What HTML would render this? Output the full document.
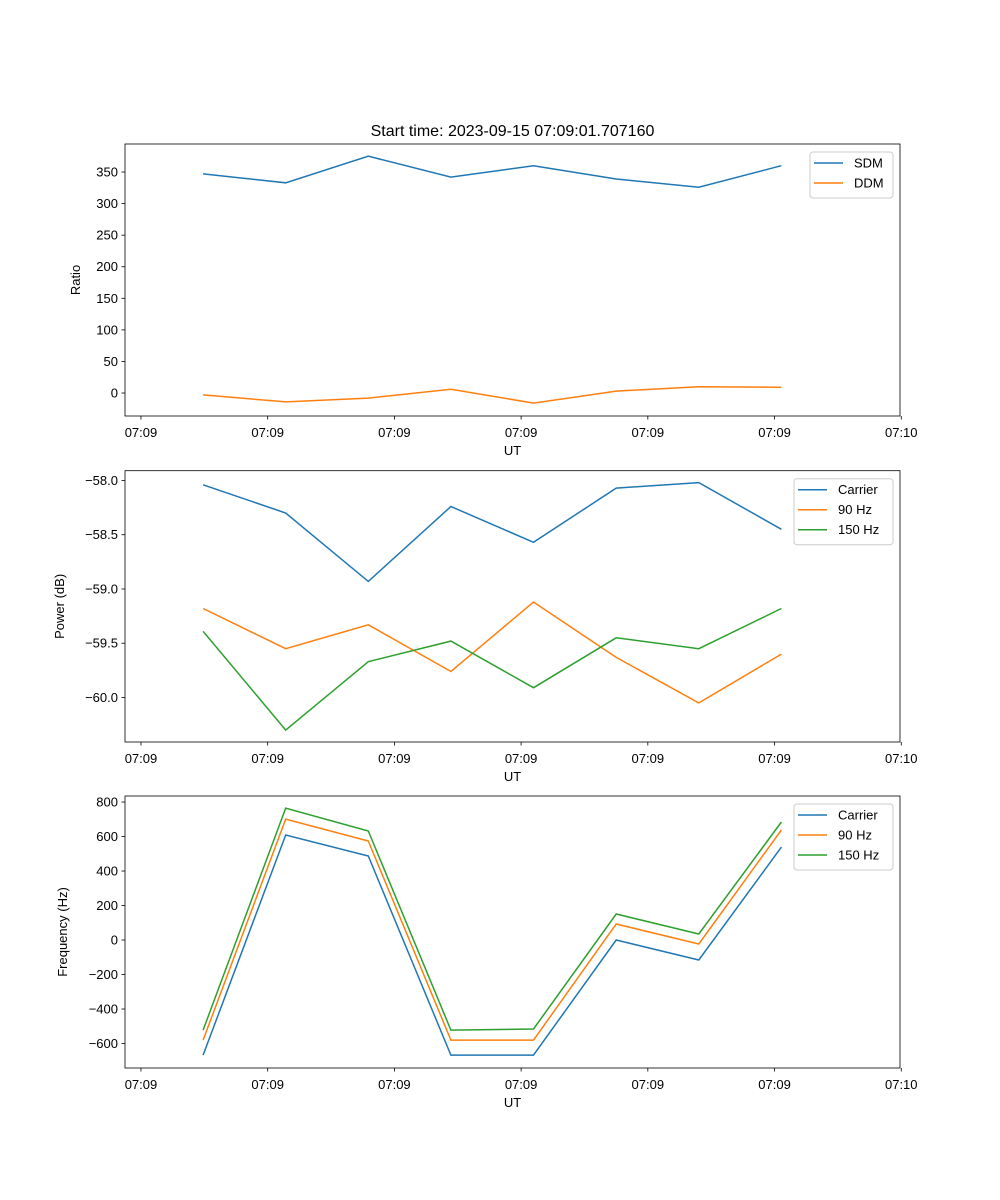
<!DOCTYPE html>
<html><head><meta charset="utf-8"><style>
body{margin:0;background:#fff}
svg{display:block;font-family:"Liberation Sans","DejaVu Sans",sans-serif}
</style></head><body>
<svg id="fig" width="1000" height="1200" xmlns="http://www.w3.org/2000/svg">
<rect width="1000" height="1200" fill="#fff"/>
<text x="512.5" y="136" font-size="16" text-anchor="middle">Start time: 2023-09-15 07:09:01.707160</text>
</svg>
<script>
// time in seconds after 07:09:00
const times = [4.9, 11.42, 17.94, 24.46, 30.98, 37.5, 44.02, 50.54];
const xTicks = [0, 10, 20, 30, 40, 50, 60];
const xTickLabels = ["07:09","07:09","07:09","07:09","07:09","07:09","07:10"];
const sdm = [347, 333, 375, 342, 360, 339, 326, 360];
const ddm = [-3, -14, -8, 6, -16, 3, 10, 9];
const ratioTicks = [0, 50, 100, 150, 200, 250, 300, 350];
const pwrCarrier = [-58.04, -58.30, -58.93, -58.24, -58.57, -58.07, -58.02, -58.45];
const pwr90 = [-59.18, -59.55, -59.33, -59.76, -59.12, -59.63, -60.05, -59.60];
const pwr150 = [-59.39, -60.30, -59.67, -59.48, -59.91, -59.45, -59.55, -59.18];
const pwrTicks = [-60.0, -59.5, -59.0, -58.5, -58.0];
const frqCarrier = [-667, 609, 487, -667, -667, 0, -116, 539];
const frq90 = [-580, 701, 574, -580, -580, 93, -23, 638];
const frq150 = [-522, 765, 632, -522, -516, 151, 35, 684];
const frqTicks = [-600, -400, -200, 0, 200, 400, 600, 800];

const NS="http://www.w3.org/2000/svg";
const svg=document.getElementById('fig');
function el(tag,attrs,parent){const e=document.createElementNS(NS,tag);for(const k in attrs)e.setAttribute(k,attrs[k]);(parent||svg).appendChild(e);return e;}
const L=125,R=900;
const xMin=-1.26,xMax=59.9;
function xs(t){return L+(t-xMin)/(xMax-xMin)*(R-L);}
const C=['#1f77b4','#ff7f0e','#2ca02c'];

function panel(name,top,bot,yMin,yMax,ticks,fmt,ylab,series,labels,leg){
  const g=el('g',{});
  
  
  const ys=v=>bot-(v-yMin)/(yMax-yMin)*(bot-top);
  series.forEach((s,i)=>{
    const p=el('polyline',{points:s.map((v,j)=>xs(times[j]).toFixed(1)+','+ys(v).toFixed(1)).join(' '),fill:'none',stroke:C[i],'stroke-width':1.5},g);
    
    
  });
  const fr=el('rect',{x:L,y:top,width:R-L,height:bot-top,fill:'none',stroke:'#000','stroke-width':0.8},g);
  
  
  xTicks.forEach((t,i)=>{
    const x=xs(t);
    el('line',{x1:x,x2:x,y1:bot,y2:bot+3.5,stroke:'#000','stroke-width':0.8},g);
    const tx=el('text',{x:x,y:bot+21,'font-size':13,'text-anchor':'middle'},g);
    tx.textContent=xTickLabels[i];
    
    
  });
  ticks.forEach(v=>{
    const y=ys(v);
    el('line',{x1:L-3.5,x2:L,y1:y,y2:y,stroke:'#000','stroke-width':0.8},g);
    const tx=el('text',{x:L-7,y:y+4.5,'font-size':13,'text-anchor':'end'},g);
    tx.textContent=fmt(v);
    
    
  });
  const xl=el('text',{x:(L+R)/2,y:bot+39,'font-size':13,'text-anchor':'middle'},g);
  xl.textContent='UT';
  
  
  const yl=el('text',{x:0,y:0,'font-size':13,'text-anchor':'middle',transform:`translate(${leg.ylx},${(top+bot)/2}) rotate(-90)`},g);
  yl.textContent=ylab;
  
  
  const lg=el('g',{},g);
  
  
  el('rect',{x:leg.x,y:top+8,width:R-7-leg.x,height:labels.length*20+6,rx:3,fill:'#fff','fill-opacity':0.8,stroke:'#ccc'},lg);
  labels.forEach((lb,i)=>{
    const y=top+19+i*20;
    el('line',{x1:leg.x+4,x2:leg.x+33,y1:y,y2:y,stroke:C[i],'stroke-width':1.5},lg);
    const t=el('text',{x:leg.x+44,y:y+4.5,'font-size':13},lg);
    t.textContent=lb;
    
    
  });
}
panel('ratio',144,416,-36.4,394.4,ratioTicks,v=>String(v).replace('-','\u2212'),'Ratio',[sdm,ddm],['SDM','DDM'],{x:810,ylx:80});
panel('power',470.7,742,-60.41,-57.91,pwrTicks,v=>v.toFixed(1).replace('-','\u2212'),'Power (dB)',[pwrCarrier,pwr90,pwr150],['Carrier','90 Hz','150 Hz'],{x:794,ylx:64});
panel('frequency',796,1068,-742,835,frqTicks,v=>String(v).replace('-','\u2212'),'Frequency (Hz)',[frqCarrier,frq90,frq150],['Carrier','90 Hz','150 Hz'],{x:794,ylx:67});
</script>
</body></html>
